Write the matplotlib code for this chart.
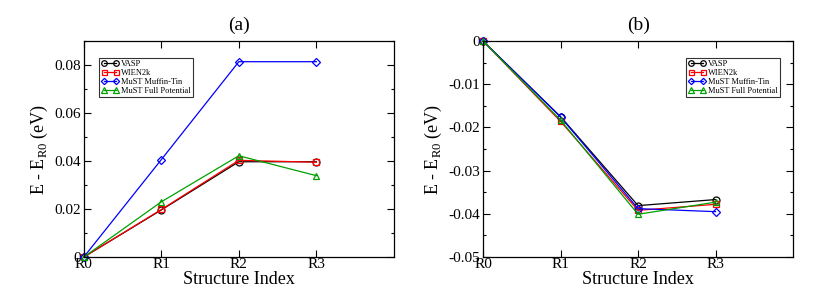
import matplotlib
matplotlib.use("Agg")
import matplotlib.pyplot as plt
from matplotlib.ticker import MultipleLocator

plt.rcParams['font.family'] = ['Liberation Serif', 'DejaVu Serif']
plt.rcParams['mathtext.fontset'] = 'custom'
plt.rcParams['mathtext.rm'] = 'Liberation Serif'

structures = ["R0", "R1", "R2", "R3"]
labels = ["VASP", "WIEN2k", "MuST Muffin-Tin", "MuST Full Potential"]

# panel (a)
vasp_a = [0.0, 0.0196, 0.0397, 0.0397]
wien_a = [0.0, 0.0198, 0.0403, 0.0395]
mt_a = [0.0, 0.0406, 0.0814, 0.0814]
fp_a = [0.0, 0.0230, 0.0422, 0.0339]
ticks_a = [0, 0.02, 0.04, 0.06, 0.08]
ticklabels_a = ["0", "0.02", "0.04", "0.06", "0.08"]

# panel (b)
vasp_b = [0.0, -0.0175, -0.0381, -0.0367]
wien_b = [0.0, -0.0186, -0.0392, -0.0378]
mt_b = [0.0, -0.0176, -0.0388, -0.0395]
fp_b = [0.0, -0.0183, -0.0401, -0.0373]
ticks_b = [-0.05, -0.04, -0.03, -0.02, -0.01, 0]
ticklabels_b = ["-0.05", "-0.04", "-0.03", "-0.02", "-0.01", "0"]

colors = ["black", "red", "blue", "#00a000"]
markers = ["o", "s", "D", "^"]
msizes = [5, 4.5, 4, 5]

fig = plt.figure(figsize=(8.3, 3.02), dpi=100)
ax_a = fig.add_axes([0.101, 0.149, 0.3735, 0.715])
ax_b = fig.add_axes([0.582, 0.149, 0.3735, 0.715])

x = list(range(len(structures)))


def draw(ax, series, ylim, yticks, yticklabels, yminor, title, legend_loc):
    for ys, lab, c, m, ms in zip(series, labels, colors, markers, msizes):
        ax.plot(x, ys, color=c, lw=0.9, marker=m, ms=ms, mfc="none",
                mec=c, mew=0.9, label=lab, clip_on=False)
    ax.set_xlim(0, 4)
    ax.set_ylim(*ylim)
    ax.set_xticks(x, structures, fontsize=11)
    ax.set_yticks(yticks, yticklabels, fontsize=11)
    ax.yaxis.set_minor_locator(MultipleLocator(yminor))
    ax.tick_params(which="both", direction="in", top=True, right=True, width=0.8)
    ax.tick_params(which="major", length=5, pad=1)
    ax.tick_params(axis="y", which="major", pad=2)
    ax.tick_params(which="minor", length=2.5)
    for s in ax.spines.values():
        s.set_linewidth(0.9)
    ax.set_xlabel("Structure Index", fontsize=13, labelpad=0)
    ax.set_ylabel(r"E - E$_{\mathrm{R0}}$ (eV)", fontsize=13, labelpad=3)
    ax.set_title(title, fontsize=14, pad=8)
    leg = ax.legend(loc=legend_loc, fontsize=6, frameon=True, fancybox=False,
                    edgecolor="black", handlelength=2.0, handletextpad=0.3,
                    labelspacing=0.1, borderpad=0.3, numpoints=2,
                    markerscale=0.8)
    leg.get_frame().set_linewidth(0.8)


draw(ax_a, [vasp_a, wien_a, mt_a, fp_a], (0, 0.09), ticks_a, ticklabels_a,
     0.01, "(a)", (0.05, 0.74))
draw(ax_b, [vasp_b, wien_b, mt_b, fp_b], (-0.05, 0), ticks_b, ticklabels_b,
     0.005, "(b)", (0.655, 0.74))

fig.savefig("out.png", dpi=100)
